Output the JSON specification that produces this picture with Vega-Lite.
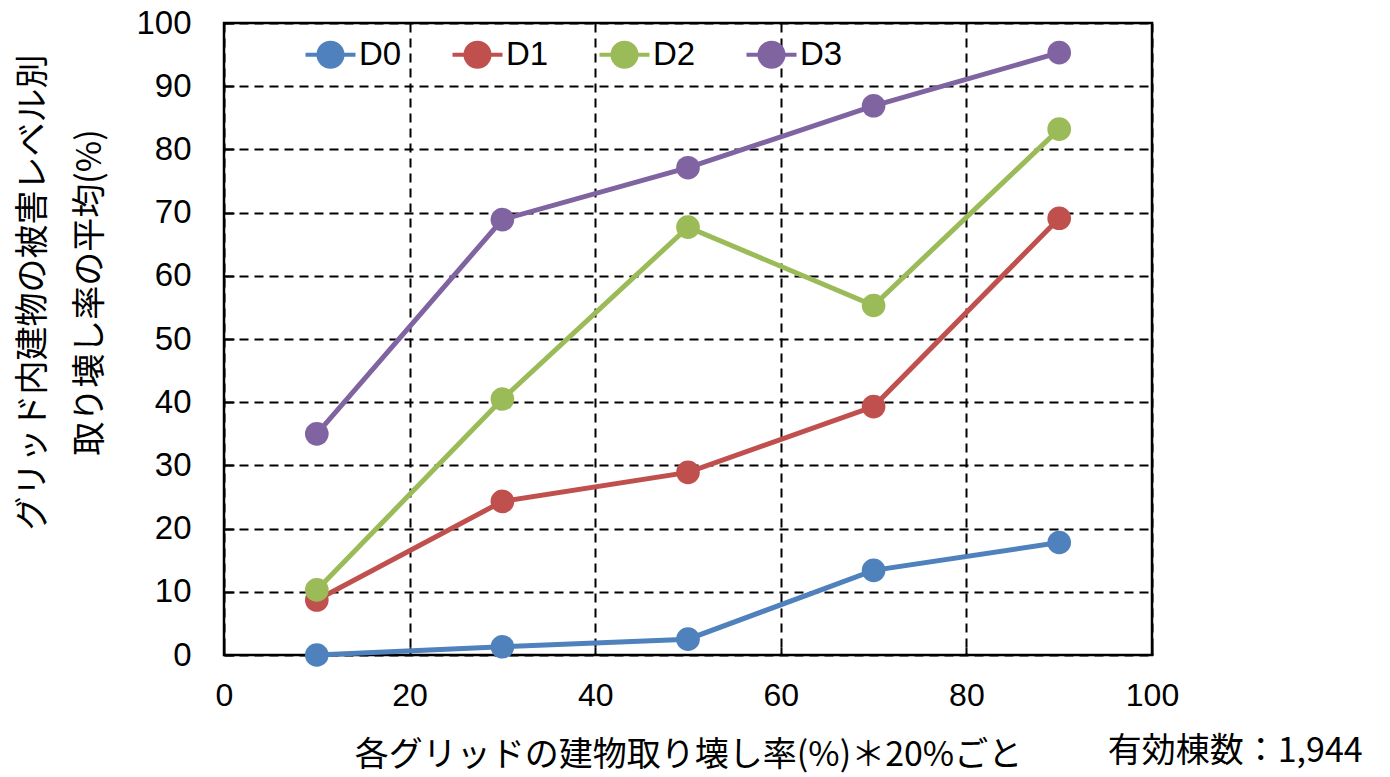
{
  "$schema": "https://vega.github.io/schema/vega-lite/v6.json",
  "autosize": "none",
  "width": 928,
  "height": 632,
  "padding": {"left": 224, "top": 23, "right": 238, "bottom": 122},
  "background": "white",
  "config": {
    "view": {"stroke": "black", "strokeWidth": 2.5},
    "font": "Liberation Sans"
  },
  "title": {
    "text": "有効棟数：1,944",
    "orient": "bottom",
    "anchor": "end",
    "align": "left",
    "dx": -71,
    "offset": -37,
    "font": "Noto Sans CJK JP",
    "fontSize": 34,
    "fontWeight": "normal",
    "color": "black"
  },
  "data": {
    "values": [
      {"x": 10, "y": 0.0, "level": "D0"},
      {"x": 30, "y": 1.3, "level": "D0"},
      {"x": 50, "y": 2.5, "level": "D0"},
      {"x": 70, "y": 13.4, "level": "D0"},
      {"x": 90, "y": 17.8, "level": "D0"},
      {"x": 10, "y": 8.7, "level": "D1"},
      {"x": 30, "y": 24.3, "level": "D1"},
      {"x": 50, "y": 28.9, "level": "D1"},
      {"x": 70, "y": 39.3, "level": "D1"},
      {"x": 90, "y": 69.1, "level": "D1"},
      {"x": 10, "y": 10.3, "level": "D2"},
      {"x": 30, "y": 40.5, "level": "D2"},
      {"x": 50, "y": 67.7, "level": "D2"},
      {"x": 70, "y": 55.3, "level": "D2"},
      {"x": 90, "y": 83.2, "level": "D2"},
      {"x": 10, "y": 35.0, "level": "D3"},
      {"x": 30, "y": 68.9, "level": "D3"},
      {"x": 50, "y": 77.1, "level": "D3"},
      {"x": 70, "y": 86.9, "level": "D3"},
      {"x": 90, "y": 95.3, "level": "D3"}
    ]
  },
  "mark": {"type": "line", "strokeWidth": 5, "point": {"filled": true, "size": 560}},
  "encoding": {
    "x": {
      "field": "x",
      "type": "quantitative",
      "scale": {"domain": [0, 100], "nice": false, "zero": true},
      "axis": {
        "values": [0, 20, 40, 60, 80, 100],
        "title": "各グリッドの建物取り壊し率(%)＊20%ごと",
        "titleFont": "Noto Sans CJK JP",
        "titleFontSize": 34,
        "titleFontWeight": "normal",
        "titleColor": "black",
        "titlePadding": 27,
        "labelFont": "Liberation Sans",
        "labelFontSize": 32,
        "labelColor": "black",
        "labelPadding": 33,
        "domain": false,
        "ticks": true,
        "tickSize": -8,
        "tickColor": "black",
        "tickWidth": 2,
        "grid": true,
        "gridColor": "black",
        "gridWidth": 2,
        "gridDash": [9, 6],
        "gridOpacity": 1,
        "labelFlush": false
      }
    },
    "y": {
      "field": "y",
      "type": "quantitative",
      "scale": {"domain": [0, 100], "nice": false},
      "axis": {
        "values": [0, 10, 20, 30, 40, 50, 60, 70, 80, 90, 100],
        "title": ["グリッド内建物の被害レベル別", "取り壊し率の平均(%)"],
        "titleFont": "Noto Sans CJK JP",
        "titleFontSize": 34,
        "titleFontWeight": "normal",
        "titleColor": "black",
        "titleLineHeight": 57,
        "titleY": 269,
        "titlePadding": 28,
        "labelFont": "Liberation Sans",
        "labelFontSize": 33,
        "labelColor": "black",
        "labelPadding": 43,
        "domain": false,
        "ticks": true,
        "tickSize": -10,
        "tickColor": "black",
        "tickWidth": 2,
        "grid": true,
        "gridColor": "black",
        "gridWidth": 2,
        "gridDash": [9, 6],
        "gridOpacity": 1,
        "labelFlush": false
      }
    },
    "color": {
      "field": "level",
      "type": "nominal",
      "scale": {"domain": ["D0", "D1", "D2", "D3"], "range": ["#4F81BD", "#C0504D", "#9BBB59", "#8064A2"]},
      "legend": {
        "title": null,
        "orient": "none",
        "direction": "horizontal",
        "legendX": 90,
        "legendY": 15,
        "padding": 0,
        "symbolType": "M-2.5,0H2.5M-1.2,0A1.2,1.2,0,1,0,1.2,0A1.2,1.2,0,1,0,-1.2,0Z",
        "symbolSize": 400,
        "symbolStrokeWidth": 4,
        "symbolFillColor": null,
        "labelFont": "Liberation Sans",
        "labelFontSize": 33,
        "labelColor": "black",
        "labelOffset": 12,
        "columnPadding": 42
      }
    }
  }
}
